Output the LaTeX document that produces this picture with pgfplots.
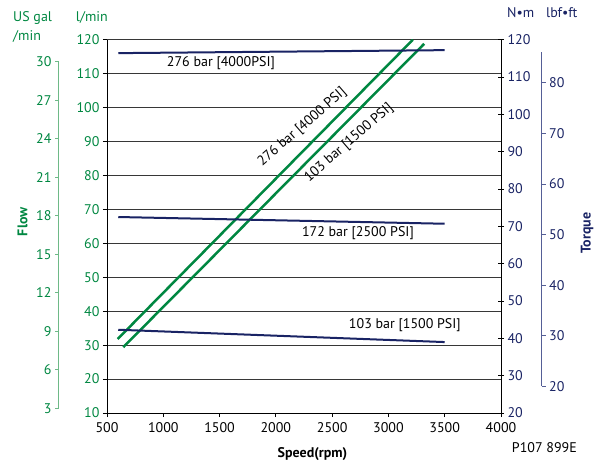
\documentclass[border=0pt]{standalone}
\usepackage{fontspec}
\setmainfont{PT Sans}
\usepackage{pgfplots}
\pgfplotsset{compat=1.18}
\definecolor{fgreen}{RGB}{0,135,65}
\definecolor{lgreen}{RGB}{110,185,135}
\definecolor{fnavy}{RGB}{25,35,100}
\definecolor{lnavy}{RGB}{85,95,150}
\definecolor{gridgray}{RGB}{55,55,55}
\begin{document}
\begin{tikzpicture}[x=1pt,y=1pt,font=\fontsize{14}{16}\selectfont]
\pgfplotsset{
  base/.style={scale only axis, anchor=south west,
    /pgf/number format/assume math mode=true,
    /pgf/number format/1000 sep={},
    tick label style={font=\fontsize{14}{16}\selectfont},
  },
}
\path[use as bounding box] (-107pt,-50pt) rectangle (489pt,413pt);
% main flow axis (l/min)
\begin{axis}[base, at={(0pt,0pt)}, width=394pt, height=373.3pt,
  xmin=500, xmax=4000, ymin=10, ymax=120,
  xtick={500,1000,...,4000}, ytick={10,20,...,120},
  axis x line*=bottom, axis y line*=left,
  axis line style={black, line width=0.9pt},
  ymajorgrids, grid style={draw=gridgray, line width=0.8pt},
  tick align=outside, major tick length=4pt,
  tick style={black, line width=0.8pt},
  yticklabel style={text=fgreen},
  xticklabel style={text=black, yshift=-2pt}]
\addplot[fgreen, line width=2.5pt] coordinates {(595,31.8) (3217,120)};
\addplot[fgreen, line width=2.5pt] coordinates {(645,29.4) (3318,118.8)};
\node at (axis cs:1512,113.2) {276 bar [4000PSI]};
\node at (axis cs:2729,63) {172 bar [2500 PSI]};
\node at (axis cs:3146,36) {103 bar [1500 PSI]};
\node[rotate=41] at (axis cs:2235,94.2) {276 bar [4000 PSI]};
\node[rotate=41] at (axis cs:2650,89.6) {103 bar [1500 PSI]};
\end{axis}
% torque axis (N m)
\begin{axis}[base, at={(0pt,0pt)}, width=394pt, height=373.3pt,
  xmin=500, xmax=4000, ymin=20, ymax=120,
  ytick={20,30,...,120},
  axis x line=none, axis y line*=right,
  axis line style={black, line width=0.9pt},
  tick align=center, major tick length=6pt,
  tick style={black, line width=0.8pt},
  yticklabel style={text=fnavy}]
\addplot[fnavy, line width=2pt] coordinates {(600,116.4) (3500,117.2)};
\addplot[fnavy, line width=2pt] coordinates {(600,72.5) (3500,70.7)};
\addplot[fnavy, line width=2pt] coordinates {(600,42.3) (3500,39.0)};
\end{axis}
% US gal/min axis
\begin{axis}[base, at={(-48pt,4.6pt)}, width=1pt, height=346.85pt,
  xmin=0, xmax=1, ymin=3, ymax=30, ytick={3,6,...,30},
  axis x line=none, axis y line*=left,
  axis line style={lgreen, line width=1pt},
  tick align=outside, major tick length=4pt,
  tick style={lgreen, line width=0.8pt},
  yticklabel style={text=fgreen}]
\end{axis}
% lbf ft axis
\begin{axis}[base, at={(433.7pt,26.57pt)}, width=1pt, height=334pt,
  xmin=0, xmax=1, ymin=20, ymax=86, ytick={20,30,...,80},
  axis x line=none, axis y line*=right,
  axis line style={lnavy, line width=1pt},
  tick align=outside, major tick length=4pt,
  tick style={lnavy, line width=0.8pt},
  yticklabel style={text=fnavy}]
\end{axis}
\node[anchor=base west, inner sep=0, text=fgreen] at (-94pt,391pt) {US gal};
\node[anchor=base west, inner sep=0, text=fgreen] at (-94pt,372pt) {/min};
\node[anchor=base east, inner sep=0, text=fgreen] at (1pt,391pt) {l/min};
\node[anchor=base west, inner sep=0, text=fnavy] at (400pt,395pt) {N•m};
\node[anchor=base west, inner sep=0, text=fnavy] at (439pt,395pt) {lbf•ft};
\node[anchor=base east, inner sep=0] at (470pt,-39pt) {P107 899E};
\node[anchor=base, inner sep=0, font=\fontsize{14}{16}\selectfont\bfseries] at (205.5pt,-44pt) {Speed(rpm)};
\node[rotate=90, inner sep=0, text=fgreen, font=\fontsize{14}{16}\selectfont\bfseries] at (-84.5pt,191.3pt) {Flow};
\node[rotate=90, inner sep=0, text=fnavy, font=\fontsize{14}{16}\selectfont\bfseries] at (480pt,180pt) {Torque};
\end{tikzpicture}
\end{document}
